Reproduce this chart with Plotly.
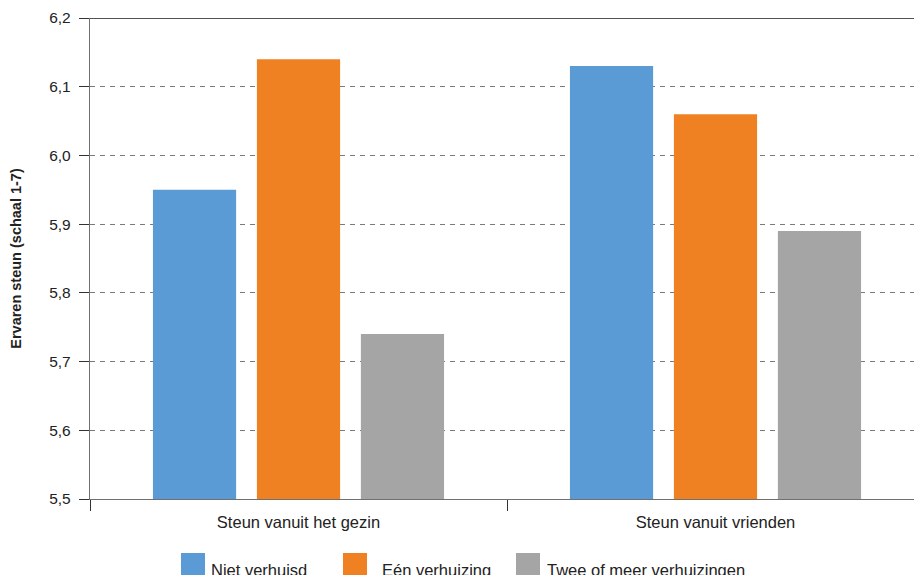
import plotly.graph_objects as go

categories = ["Steun vanuit het gezin", "Steun vanuit vrienden"]
series_names = ["Niet verhuisd", "Eén verhuizing", "Twee of meer verhuizingen"]
niet_verhuisd = [5.95, 6.13]
een_verhuizing = [6.14, 6.06]
twee_of_meer = [5.74, 5.89]
y_ticks = [5.5, 5.6, 5.7, 5.8, 5.9, 6.0, 6.1, 6.2]
y_tick_labels = ["5,5", "5,6", "5,7", "5,8", "5,9", "6,0", "6,1", "6,2"]

colors = ["#5b9bd5", "#f08122", "#a5a5a5"]
values = [niet_verhuisd, een_verhuizing, twee_of_meer]

FONT = "Liberation Sans, Arial, sans-serif"
W, H = 914, 575
ML, MR, MT, MB = 90, 0, 18, 76
PW, PH = W - ML - MR, H - MT - MB

fig = go.Figure()
for name, vals, col in zip(series_names, values, colors):
    fig.add_trace(go.Bar(x=categories, y=vals, name=name, marker_color=col,
                         marker_line_width=0, showlegend=False))

fig.update_layout(
    width=W, height=H,
    margin=dict(l=ML, r=MR, t=MT, b=MB),
    plot_bgcolor="white", paper_bgcolor="white",
    barmode="group", bargap=0.252, bargroupgap=0.2,
    font=dict(family=FONT, size=16, color="#222222"),
)
fig.update_xaxes(
    range=[-0.5, -0.5 + PW / 417.0],
    showline=True, linecolor="#707070", linewidth=1.3,
    ticks="outside", tickson="boundaries", ticklen=11, tickcolor="#333333",
    tickwidth=1, ticklabelstandoff=8,
    showgrid=False, tickfont=dict(size=16.5, color="#222222"),
)
fig.update_yaxes(
    range=[5.5, 6.2], tickvals=y_ticks, ticktext=y_tick_labels,
    showline=True, linecolor="#707070", linewidth=1.3,
    ticks="outside", ticklen=10, tickcolor="#333333", tickwidth=1,
    ticklabelstandoff=5,
    showgrid=True, gridcolor="#7a7a7a", gridwidth=1, griddash="5px,5px",
    zeroline=False, tickfont=dict(size=15.5, color="#222222"),
    title=dict(text="<b>Ervaren steun (schaal 1-7)</b>",
               font=dict(size=14.5, color="#222222"), standoff=24),
)

# solid top line at 6.2
fig.add_shape(type="line", xref="paper", yref="y", x0=0, x1=1, y0=6.2, y1=6.2,
              line=dict(color="#1a1a1a", width=1.5))

# manual legend
def px_x(p):
    return (p - ML) / PW

def px_y(p):
    return (MT + PH - p) / PH

legend_items = [(181, 209), (343, 380), (516, 545)]
for (sx, tx), name, col in zip(legend_items, series_names, colors):
    fig.add_shape(type="rect", xref="paper", yref="paper",
                  x0=px_x(sx), x1=px_x(sx + 24), y0=px_y(553), y1=px_y(582),
                  fillcolor=col, line_width=0)
    fig.add_annotation(xref="paper", yref="paper", x=px_x(tx), y=px_y(559),
                       xanchor="left", yanchor="top", showarrow=False,
                       text=name, font=dict(size=16.5, color="#222222"))

fig.write_html("out.html", config={"displayModeBar": False},
               post_script="document.body.style.margin='0';document.body.style.overflow='hidden';")
